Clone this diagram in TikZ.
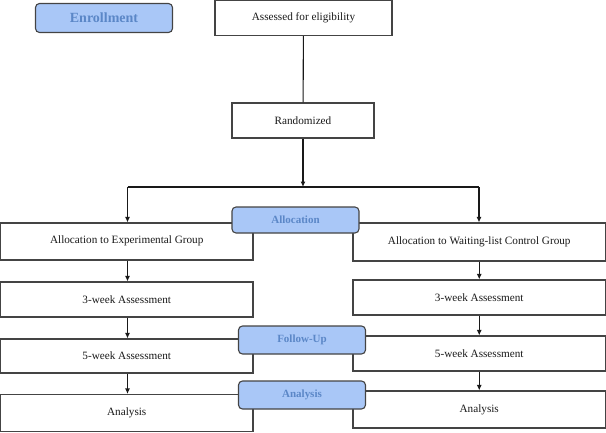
\documentclass[tikz,border=0pt]{standalone}
\usepackage{fontspec}
\setmainfont{Liberation Serif}
\usetikzlibrary{arrows.meta}

\definecolor{hdrFill}{HTML}{A9C7F7}
\definecolor{hdrText}{HTML}{5B87C7}
\definecolor{edgeGray}{HTML}{444444}

\tikzset{
    stepbox/.style={draw=edgeGray, line width=1.1pt, fill=white, inner sep=0pt,
                    font=\fontsize{11.2}{13}\selectfont, text=black!90},
    phasebox/.style={draw=edgeGray, line width=1.1pt, fill=hdrFill, rounded corners=4pt,
                     inner sep=0pt, minimum width=127, minimum height=27,
                     font=\fontsize{11}{13}\selectfont\bfseries, text=hdrText},
    arr/.style={draw=black!90, line width=1.1pt, -{Latex[length=5.5pt,width=5pt]}},
    plain/.style={draw=black!90, line width=1.1pt}
}

\begin{document}
\begin{tikzpicture}[x=1pt, y=-1pt % 以像素为单位, y 轴向下
            ]
            \useasboundingbox (0,0) rectangle (606,432); % 固定画面大小

            % 顶部两个框
            \node[stepbox, minimum width=177, minimum height=35] (assess) at (303.5,18) {Assessed for eligibility};
            \node[stepbox, minimum width=142, minimum height=35] (rand) at (303,120.5) {Randomized};

            % 分叉点
            \coordinate (splitM) at (303,187);
            \coordinate (splitL) at (127.5,187);
            \coordinate (splitR) at (479,187);

            % 左列 (实验组)
            \node[stepbox, minimum width=252.5, minimum height=37] (leftAlloc) at (126.75,241.5) {\raisebox{3pt}{Allocation to Experimental Group}};
            \node[stepbox, minimum width=252.5, minimum height=35] (leftThree) at (126.75,299.5) {3-week Assessment};
            \node[stepbox, minimum width=252.5, minimum height=34] (leftFive)  at (126.75,356) {5-week Assessment};
            \node[stepbox, minimum width=252.5, minimum height=37] (leftAna)   at (126.75,413) {Analysis};

            % 右列 (候补对照组)
            \node[stepbox, minimum width=252.5, minimum height=38] (rightAlloc) at (479.25,242) {\raisebox{3pt}{Allocation to Waiting-list Control Group}};
            \node[stepbox, minimum width=252.5, minimum height=35] (rightThree) at (479.25,297.5) {3-week Assessment};
            \node[stepbox, minimum width=252.5, minimum height=35] (rightFive)  at (479.25,353.5) {5-week Assessment};
            \node[stepbox, minimum width=252.5, minimum height=37] (rightAna)   at (479.25,409.5) {Analysis};

            % 连线
            \draw[plain] (assess) -- (rand);
            \draw[arr] (rand) -- (splitM);
            \draw[plain] (splitL) -- (splitR);
            \draw[arr] (splitL) -- (leftAlloc.north -| splitL);
            \draw[arr] (splitR) -- (rightAlloc.north -| splitR);

            \draw[arr] (leftAlloc.south -| splitL) -- (leftThree.north -| splitL);
            \draw[arr] (leftThree.south -| splitL) -- (leftFive.north -| splitL);
            \draw[arr] (leftFive.south -| splitL) -- (leftAna.north -| splitL);

            \draw[arr] (rightAlloc) -- (rightThree);
            \draw[arr] (rightThree) -- (rightFive);
            \draw[arr] (rightFive) -- (rightAna);

            % 阶段标签 (画在最上层)
            \node[phasebox, minimum width=137, minimum height=29,
                  font=\fontsize{14}{16}\selectfont\bfseries] (enroll) at (104,18) {Enrollment};
            \node[phasebox, minimum height=26] (allocHdr) at (295.5,220) {Allocation};
            \node[phasebox, minimum height=28] (followHdr) at (302,340) {Follow-Up};
            \node[phasebox, minimum height=28] (anaHdr) at (302,395) {Analysis};

        \end{tikzpicture}
\end{document}
